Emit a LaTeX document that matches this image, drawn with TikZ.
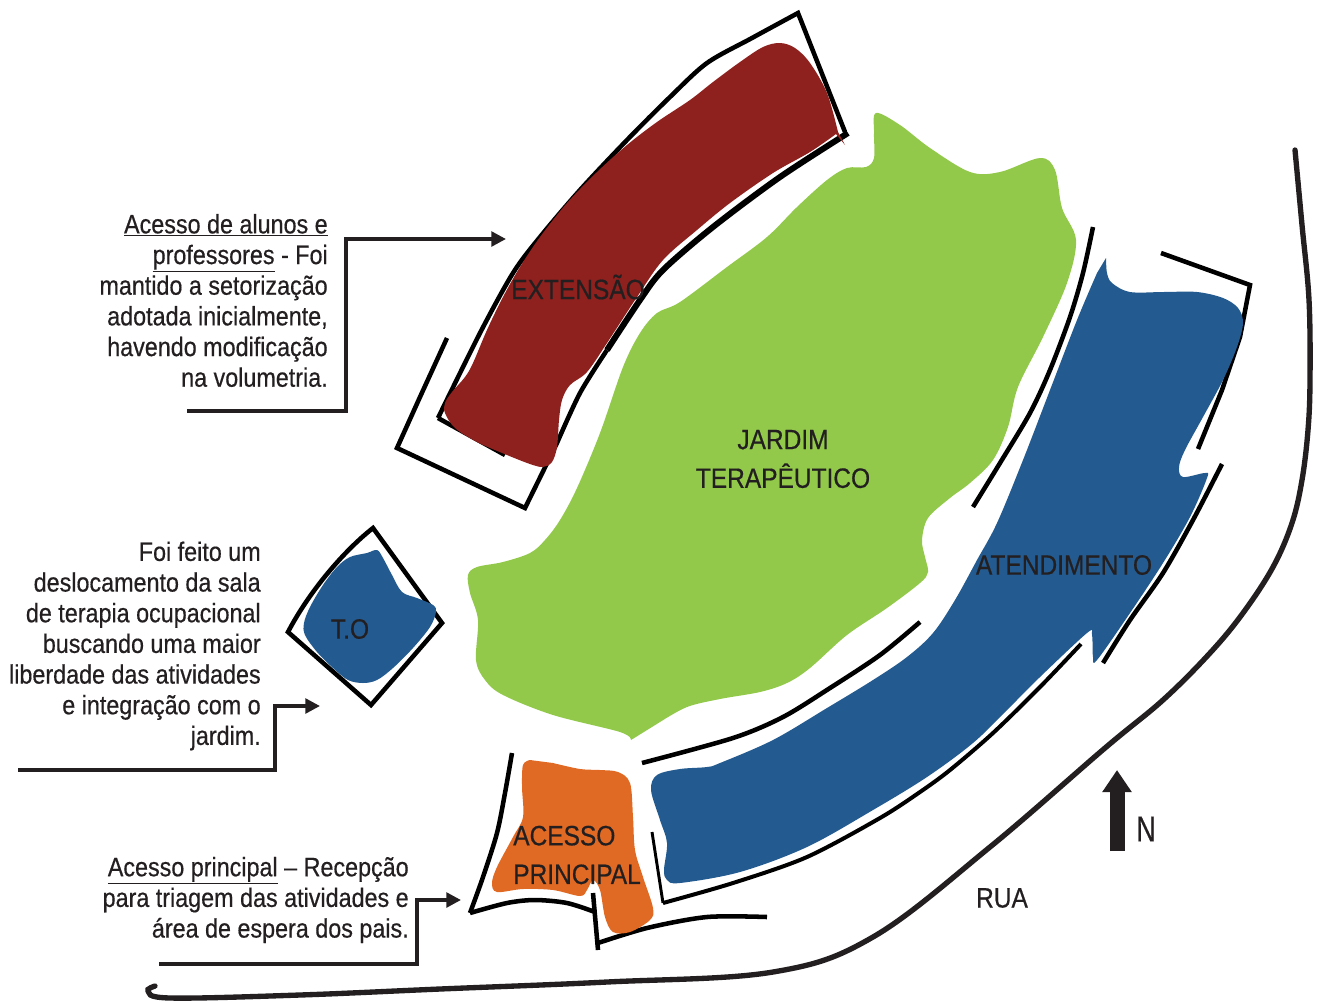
\documentclass[tikz,border=0pt]{standalone}
\usepackage{fontspec}
\setmainfont{Liberation Sans}[FakeStretch=0.875, FakeBold=0.5]
\usepackage{xcolor}
\usetikzlibrary{arrows.meta}
\definecolor{extred}{HTML}{8E211E}
\definecolor{gardengreen}{HTML}{92C94A}
\definecolor{careblue}{HTML}{235A8F}
\definecolor{entryorange}{HTML}{E06A24}
\definecolor{inkdark}{HTML}{231F20}

\begin{document}
\begin{tikzpicture}[x=0.75pt, y=-0.75pt, font=\fontsize{20}{23}\selectfont, text=inkdark]
	\tikzstyle{wall}=[draw=black, line width=3.4pt, line join=miter]
	\tikzstyle{road}=[draw=inkdark, line width=4pt, line cap=round]
	\tikzstyle{leader}=[draw=inkdark, line width=2.6pt, -{Triangle[length=11pt, width=11pt]}]
	\tikzstyle{note}=[align=right, anchor=east, inner sep=0pt]
	\tikzstyle{zone}=[align=center, inner sep=0pt, font=\fontsize{21}{29}\selectfont]
	\useasboundingbox (0,0) rectangle (1317,1001);

	% walls
	\draw[wall] plot[smooth, tension=0.5] coordinates {(438,418) (480,333) (513,273) (540,237) (580,190) (627,140) (670,97) (707,63) (752,38) (798,13)} -- (845,132);
	\draw[wall] (438,418) -- (505,455);
	\draw[wall, line width=4.5pt] plot[smooth, tension=0.5] coordinates {(848,133) (780,177) (713,227) (663,270) (640,300) (607,350)};
	\draw[wall] plot[smooth, tension=0.5] coordinates {(607,350) (580,393) (557,443)} -- (525,508) -- (397,448) -- (420,397) -- (447,338);
	\draw[wall] plot[smooth, tension=0.5] coordinates {(1093,227) (1083,273) (1070,317) (1050,370) (1030,413) (1000,463) (973,507)};
	\draw[wall] (1161,253) -- (1250,285) -- (1240,337) -- (1222,390) -- (1198,449);
	\draw[wall] plot[smooth, tension=0.5] coordinates {(1222,464) (1193,520) (1163,573) (1130,620) (1103,663)};
	\draw[wall, line width=3pt] plot[smooth, tension=0.5] coordinates {(1081,644) (1040,687) (993,733) (950,770) (920,792) (880,818) (807,857) (733,883) (663,903)};
	\draw[wall, line width=2.2pt] (663,903) -- (652,832);
	\draw[wall] plot[smooth, tension=0.5] coordinates {(642,763) (733,738) (783,717) (830,688) (880,655) (920,622)};
	\draw[wall] plot[smooth, tension=0.5] coordinates {(512,753) (505,793) (497,833) (483,877) (470,913)};
	\draw[wall] plot[smooth, tension=0.5] coordinates {(470,913) (507,903) (535,900) (567,903) (595,912)};
	\draw[wall] (593,893) -- (598,950);
	\draw[wall] plot[smooth, tension=0.5] coordinates {(598,943) (647,928) (707,917) (767,917)};
	\draw[wall] (373,528) .. controls (345,550) and (310,590) .. (288,632) -- (371,705) -- (442,623) -- cycle;

	% zones
	\fill[gardengreen] plot[smooth, tension=0.55] coordinates {(631,740) (620,732) (553,715) (503,695) (485,680) (476,660) (478,620) (470,593) (468,575) (477,567) (503,562) (530,553) (545,540) (560,520) (577,488) (600,433) (623,367) (640,333) (657,313) (680,302) (727,267) (767,237) (797,207) (827,180) (847,168) (866,167) (874,158) (874,133) (876,113) (900,125) (930,148) (970,172) (1000,172) (1040,158) (1055,170) (1062,208) (1076,240) (1067,283) (1043,337) (1018,387) (1008,427) (993,460) (970,483) (950,498) (928,518) (922,540) (925,557) (928,572) (920,583) (887,608) (847,635) (810,668) (787,683) (760,692) (720,699) (687,707) (660,722)} -- cycle;
	\fill[extred] plot[smooth, tension=0.55] coordinates {(838,132) (827,93) (810,63) (795,48) (780,43) (763,47) (740,62) (713,82) (690,100) (657,122) (627,145) (597,172) (567,203) (540,237) (520,267) (503,297) (487,330) (473,363) (465,377) (452,392) (445,403) (445,413) (455,428) (477,442) (507,455) (530,464) (543,467) (552,462) (557,447) (559,420) (562,400) (570,385) (587,372) (607,343) (637,297) (663,260) (697,230) (730,203) (773,173) (810,152) (836,134)} -- (845,145) -- cycle;
	\fill[careblue] plot[smooth, tension=0.55] coordinates {(1106,258) (1107,273) (1112,283) (1130,292) (1163,292) (1197,292) (1223,298) (1238,308) (1243,323) (1237,347) (1223,380) (1203,417) (1185,450) (1179,467) (1183,477) (1205,473) (1207,478) (1190,517) (1163,563) (1130,613) (1097,660) (1093,657) (1092,635) (1087,633) (1040,677) (1007,710) (973,743) (927,777) (873,810) (807,847) (740,872) (680,883) (667,880) (664,870) (667,843) (660,820) (651,790) (657,775) (680,769) (707,767) (720,763) (773,740) (827,708) (873,680) (907,657) (933,633) (955,600) (977,560) (997,523) (1023,460) (1050,390) (1077,320) (1097,273)} -- cycle;
	\fill[careblue] plot[smooth cycle, tension=0.55] coordinates {(377,550) (383,558) (392,575) (402,592) (417,598) (433,605) (436,612) (430,627) (413,648) (393,668) (377,680) (363,683) (348,680) (333,668) (317,652) (305,635) (304,623) (310,607) (323,585) (337,567) (350,557) (367,553)};
	\fill[entryorange] plot[smooth, tension=0.55] coordinates {(530,760) (523,765) (522,787) (523,817) (513,837) (497,867) (492,883) (497,892) (523,889) (553,890) (580,896) (587,890) (593,880) (600,890) (605,917) (613,932) (630,932) (650,920) (653,908) (643,877) (635,850) (633,817) (630,783) (618,772) (600,770) (580,769) (553,763)} -- cycle;

	% street
	\draw[road] plot[smooth, tension=0.6] coordinates {(1295,150) (1302,225) (1309,300) (1310,380) (1308,430) (1302,480) (1292,523) (1273,567) (1243,613) (1210,653) (1163,700) (1105,748) (990,847) (873,937) (773,972) (607,982) (440,989) (300,995) (170,998) (148,991) (155,986)};

	% north arrow
	\coordinate (nbase) at (1117,851);
	\coordinate (ntip) at (1117,770);
	\draw[draw=inkdark, line width=11.25pt, -{Triangle[length=16.5pt, width=21pt]}] (nbase) -- (ntip);

	% labels
	\node[zone] (ext) at (578,287) {EXTENS\~AO};
	\node[zone] (jardim) at (783,459) {JARDIM\\TERAP\^EUTICO};
	\node[zone] (atend) at (1064,565) {ATENDIMENTO};
	\node[zone] (to) at (350,629) {T.O};
	\node[zone, align=left, anchor=west] (acesso) at (513,855) {ACESSO\\PRINCIPAL};
	\node[zone] (rua) at (1002,898) {RUA};
	\node[zone, font=\fontsize{27}{29}\selectfont, xscale=0.85] (north) at (1146,829) {N};

	% notes
	\node[note] (noteext) at (328,300.5) {\underline{Acesso de alunos e}\\\underline{professores} - Foi\\mantido a setoriza\c{c}\~ao\\adotada inicialmente,\\havendo modifica\c{c}\~ao\\na volumetria.};
	\node[note] (noteto) at (261,646) {Foi feito um\\deslocamento da sala\\de terapia ocupacional\\buscando uma maior\\liberdade das atividades\\e integra\c{c}\~ao com o\\jardim.};
	\node[note] (noteac) at (409,900) {\underline{Acesso principal} -- Recep\c{c}\~ao\\para triagem das atividades e\\\'area de espera dos pais.};

	% leaders
	\coordinate (extstart) at (187,411);
	\coordinate (extend) at (506,239);
	\coordinate (tostart) at (18,770);
	\coordinate (toend) at (320,706);
	\coordinate (acstart) at (159,964);
	\coordinate (acend) at (461,900);
	\draw[leader] (extstart) -- ++(159,0) |- (extend);
	\draw[leader] (tostart) -- ++(257,0) |- (toend);
	\draw[leader] (acstart) -- ++(258,0) |- (acend);
\end{tikzpicture}
\end{document}
